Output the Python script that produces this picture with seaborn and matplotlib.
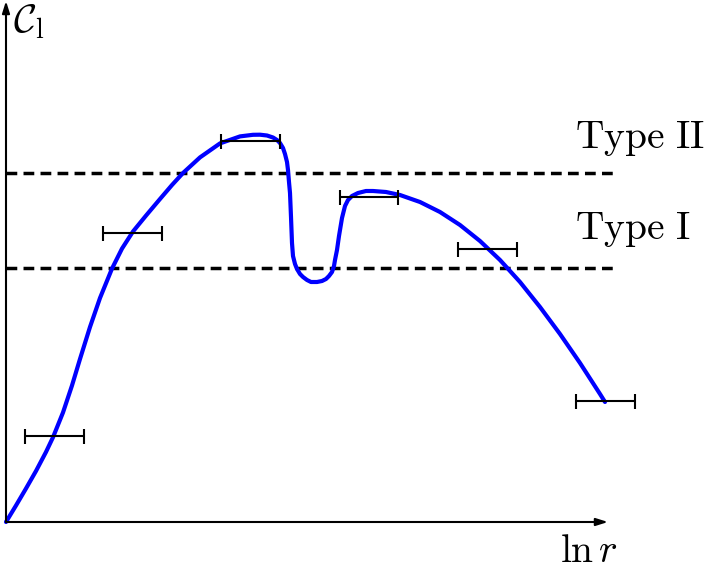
import matplotlib
matplotlib.use("Agg")
import matplotlib.pyplot as plt
import numpy as np
import pandas as pd
import seaborn as sns

# --- data (units: screen pixels from the origin) ---
curve_x = [0, 10, 20, 30, 40, 47, 57, 66, 74, 84, 94, 106, 116, 127, 140,
           154, 166, 177, 194, 214, 234, 247, 254, 261, 267, 271, 274, 277, 279,
           281, 282, 283, 284, 285, 286, 287, 289, 291, 294, 297, 301, 305, 311,
           316, 320, 323, 326, 328, 329, 331, 333, 336, 339, 342, 346, 352, 360,
           367, 380, 394, 414, 434, 454, 474, 494, 514, 534, 554, 574, 594, 599]
curve_y = [0, 16.5, 33.5, 51, 70, 84.7, 109.5, 136.5, 163, 195, 224, 253.4, 273.4, 290.5, 306.4,
           323, 337, 349, 364.6, 378.6, 385.6, 387.2, 387.3, 386.5, 384.5, 382, 379, 374, 368,
           360, 352, 340, 329, 305, 279, 266, 258, 253, 248, 245, 242, 240, 240,
           241, 243, 246, 250, 256, 262, 272, 286, 304, 316, 322, 326, 329, 331,
           331, 330, 327, 320, 310, 297, 281, 262, 240, 215, 188, 159, 128, 120]

type_levels = [254, 349]
type_labels = [r"$\mathrm{Type\ I}$", r"$\mathrm{Type\ II}$"]

bar_x = [48.5, 126.5, 244.5, 363, 481.5, 599.5]
bar_y = [86, 289, 381, 325, 273, 121]
bar_half = [29.5, 29.5, 29.5, 29, 29.5, 29.5]

df = pd.DataFrame({"lnr": curve_x, "C": curve_y})

sns.set_style("white")
plt.rcParams["mathtext.fontset"] = "cm"

fig = plt.figure(figsize=(7.09, 5.70), dpi=100)
ax = fig.add_axes([0, 0, 1, 1])
ax.set_xlim(-6, 703)
ax.set_ylim(-48, 522)
ax.axis("off")

# threshold lines
for lvl in type_levels:
    ax.plot([0, 609], [lvl, lvl], color="black", lw=2.5, dashes=(3.1, 1.8),
            dash_capstyle="butt")

# main curve
sns.lineplot(data=df, x="lnr", y="C", sort=False, color="#0000ff", lw=3.0,
             ax=ax, legend=False, solid_joinstyle="round")

# horizontal uncertainty bars
ax.errorbar(bar_x, bar_y, xerr=bar_half, fmt="none", ecolor="black",
            elinewidth=1.5, capsize=5.4, capthick=1.5, zorder=4)

# axes with arrows
arrow = dict(arrowstyle="-|>,head_length=0.7,head_width=0.22", color="black",
             lw=1.5, shrinkA=0, shrinkB=0)
ax.annotate("", xy=(0, 521), xytext=(0, 0), arrowprops=arrow)
ax.annotate("", xy=(602, 0), xytext=(0, 0), arrowprops=arrow)

# labels
txt = dict(fontsize=28.5, va="baseline", ha="left", color="black")
ax.text(569, 374, type_labels[1], **txt)
ax.text(569, 283, type_labels[0], **txt)
ax.text(7, 490, r"$\mathcal{C}_\mathrm{l}$", **txt)
ax.text(554, -40, r"$\ln r$", **txt)

fig.savefig("out.png", dpi=100)
